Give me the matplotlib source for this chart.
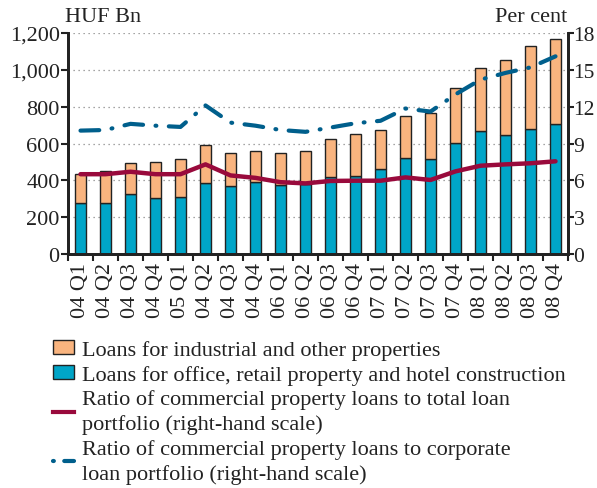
import matplotlib
matplotlib.use("Agg")
import matplotlib.pyplot as plt
from matplotlib.patches import Patch
from matplotlib.lines import Line2D
from matplotlib.ticker import FixedLocator

plt.rcParams['font.family'] = ['Liberation Serif', 'DejaVu Serif']

quarters = ["04 Q1", "04 Q2", "04 Q3", "04 Q4", "05 Q1", "04 Q2", "04 Q3", "04 Q4",
            "06 Q1", "06 Q2", "06 Q3", "06 Q4", "07 Q1", "07 Q2", "07 Q3", "07 Q4",
            "08 Q1", "08 Q2", "08 Q3", "08 Q4"]
office_retail = [277, 277, 324, 302, 308, 386, 371, 389, 376, 380, 420, 425, 460, 521, 514,
                 604, 670, 644, 677, 704]
total_loans = [434, 452, 492, 501, 514, 594, 548, 561, 548, 561, 623, 653, 675, 749, 764,
               903, 1008, 1055, 1129, 1166]
industrial = [t - o for t, o in zip(total_loans, office_retail)]
ratio_total = [6.5, 6.5, 6.7, 6.5, 6.5, 7.3, 6.4, 6.2, 5.85, 5.75, 5.95, 5.97, 5.97, 6.24,
               6.03, 6.73, 7.19, 7.3, 7.39, 7.55]
ratio_corp = [10.05, 10.1, 10.6, 10.45, 10.35, 12.1, 10.7, 10.45, 10.1, 9.95, 10.3, 10.65,
              10.85, 11.85, 11.6, 13.0, 14.2, 14.75, 15.2, 16.1]

legend_labels = ["Loans for industrial and other properties",
                 "Loans for office, retail property and hotel construction",
                 "Ratio of commercial property loans to total loan\nportfolio (right-hand scale)",
                 "Ratio of commercial property loans to corporate\nloan portfolio (right-hand scale)"]

c_orange = "#F9B47F"
c_blue = "#00A5C8"
c_red = "#990A3C"
c_dblue = "#005F8C"
c_text = "#222222"
FS = 16

fig = plt.figure(figsize=(5.97, 4.89), dpi=100)
ax = fig.add_axes([68 / 597, 1 - 255 / 489, 500 / 597, 221 / 489])
ax2 = ax.twinx()

x = list(range(len(quarters)))
w = 0.44
ax.bar(x, office_retail, width=w, color=c_blue, edgecolor=c_text, linewidth=1.0, zorder=2)
ax.bar(x, industrial, bottom=office_retail, width=w, color=c_orange, edgecolor=c_text,
       linewidth=1.0, zorder=2)

ax.set_xlim(-0.5, len(quarters) - 0.5)
ax.set_ylim(0, 1200)
ax.set_yticks(range(0, 1201, 200))
ax.set_yticklabels(["0", "200", "400", "600", "800", "1,000", "1,200"])
for yv in range(200, 1201, 200):
    ax.axhline(yv, color="#888888", linestyle=(0, (1, 3)), linewidth=0.9, zorder=1)

ax.set_xticks(x)
ax.set_xticklabels(quarters, rotation=90)
ax.xaxis.set_minor_locator(FixedLocator([i - 0.5 for i in range(len(quarters) + 1)]))
ax.tick_params(axis='x', which='major', length=0, pad=6, labelsize=FS, colors=c_text)
ax.tick_params(axis='x', which='minor', length=5, width=1.5, direction='out', color=c_text)
ax.tick_params(axis='y', length=5, width=1.5, direction='out', labelsize=FS, colors=c_text, pad=1)

ax2.set_ylim(0, 18)
ax2.set_yticks(range(0, 19, 3))
ax2.tick_params(axis='y', length=4, width=1.5, direction='out', labelsize=15.5, colors=c_text,
                pad=0)

ax2.plot(x, ratio_total, color=c_red, linewidth=3.2, solid_joinstyle='round',
         solid_capstyle='round', zorder=4)
ax2.plot(x, ratio_corp, color=c_dblue, linewidth=3.0, dashes=[4.5, 3.0, 0.2, 3.0],
         dash_capstyle='round', zorder=4)

for a in (ax, ax2):
    a.spines['top'].set_visible(False)
    for s in ('left', 'right', 'bottom'):
        a.spines[s].set_linewidth(2.0)
        a.spines[s].set_color(c_text)
ax2.set_zorder(ax.get_zorder() + 1)
ax.patch.set_visible(False)

fig.text(65 / 597, 1 - 18 / 489, "HUF Bn", fontsize=FS, color=c_text, va='center', ha='left')
fig.text(567 / 597, 1 - 18 / 489, "Per cent", fontsize=FS, color=c_text, va='center', ha='right')

handles = [Patch(facecolor=c_orange, edgecolor=c_text, linewidth=1.0),
           Patch(facecolor=c_blue, edgecolor=c_text, linewidth=1.0),
           Line2D([], [], color=c_red, linewidth=3.0),
           Line2D([], [], color=c_dblue, linewidth=3.0, dashes=[0.2, 2.5, 4.0, 2.0],
                  dash_capstyle='round')]
leg = fig.legend(handles, legend_labels, loc='upper left',
                 bbox_to_anchor=(53 / 597, 1 - 341 / 489),
                 frameon=False, fontsize=FS, handlelength=0.95, handleheight=0.55,
                 handletextpad=0.35, labelspacing=0.22, borderaxespad=0, borderpad=0,
                 labelcolor=c_text)
for t in leg.get_texts():
    t.set_linespacing(1.32)

fig.savefig("out.png", dpi=100)
